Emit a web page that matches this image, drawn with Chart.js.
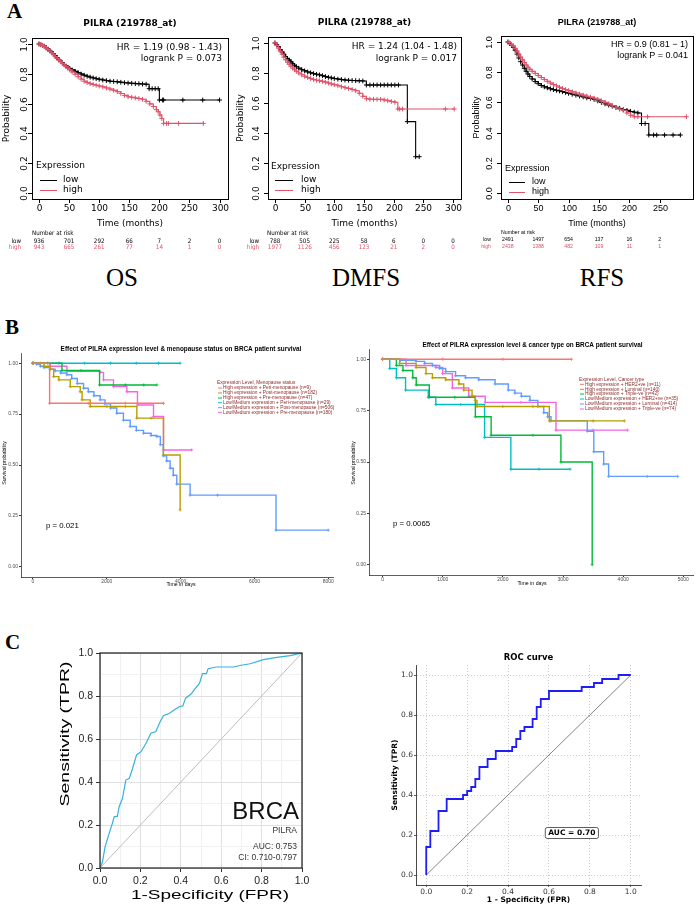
<!DOCTYPE html>
<html>
<head>
<meta charset="utf-8">
<title>PILRA survival and ROC</title>
<script src="https://cdn.jsdelivr.net/npm/chart.js@4.4.1/dist/chart.umd.min.js"></script>
<style>
  body { margin: 0; background: #fff; }
  #page { position: relative; width: 698px; height: 906px; overflow: hidden; background: #fff; }
  #page canvas { position: absolute; }
  .tag { position: absolute; font-family: 'Liberation Serif', serif; color: #000; line-height: 1; white-space: nowrap; }
  .panel { font-weight: bold; font-size: 21px; }
  .name { font-size: 25px; transform: translateX(-50%); }
</style>
</head>
<body>
<div id="page">
  <div class="tag panel" style="left:7px;top:1px">A</div>
  <div class="tag panel" style="left:5px;top:317px">B</div>
  <div class="tag panel" style="left:5px;top:632px">C</div>
  <div class="tag name" style="left:122px;top:265px">OS</div>
  <div class="tag name" style="left:366px;top:265px">DMFS</div>
  <div class="tag name" style="left:602px;top:265px">RFS</div>

  <canvas id="os" width="234" height="255" style="left:0;top:0"></canvas>
  <canvas id="dmfs" width="232" height="255" style="left:234px;top:0"></canvas>
  <canvas id="rfs" width="232" height="255" style="left:466px;top:0"></canvas>
  <canvas id="meno" width="350" height="258" style="left:0;top:335px"></canvas>
  <canvas id="ctype" width="348" height="258" style="left:350px;top:335px"></canvas>
  <canvas id="rocBrca" width="350" height="286" style="left:0;top:620px"></canvas>
  <canvas id="rocPilra" width="348" height="266" style="left:350px;top:640px"></canvas>
</div>

<script>
// ---------- A: KM plotter curves, [months, survival] ----------
const osLow = [[0,1],[3,0.995],[6,0.99],[9,0.985],[12,0.975],[15,0.965],[18,0.955],[21,0.945],[24,0.932],[27,0.92],[30,0.908],[33,0.896],[36,0.884],[39,0.872],[42,0.862],[45,0.852],[48,0.843],[51,0.835],[55,0.826],[60,0.816],[65,0.807],[70,0.798],[75,0.79],[80,0.783],[85,0.777],[90,0.772],[95,0.767],[100,0.763],[106,0.758],[112,0.754],[118,0.75],[124,0.748],[130,0.746],[136,0.743],[142,0.74],[148,0.738],[154,0.736],[160,0.734],[166,0.733],[172,0.731],[178,0.73],[183,0.70],[188,0.70],[193,0.70],[198,0.70],[200,0.624],[205,0.624],[207,0.624],[239,0.624],[272,0.624],[300,0.624]];
const osHigh = [[0,1],[3,0.995],[6,0.99],[9,0.982],[12,0.972],[15,0.962],[18,0.952],[21,0.94],[24,0.928],[27,0.916],[30,0.904],[33,0.892],[36,0.88],[39,0.869],[42,0.859],[45,0.849],[48,0.838],[51,0.826],[55,0.812],[60,0.796],[65,0.78],[70,0.764],[75,0.75],[80,0.741],[85,0.734],[90,0.728],[95,0.723],[100,0.718],[106,0.712],[112,0.705],[118,0.697],[124,0.689],[130,0.68],[136,0.668],[142,0.655],[148,0.646],[154,0.642],[160,0.638],[166,0.634],[172,0.629],[178,0.615],[184,0.598],[190,0.58],[195,0.56],[198,0.545],[201,0.523],[204,0.5],[207,0.467],[212,0.467],[215,0.467],[232,0.467],[273,0.467]];
const dmfsLow = [[0,1],[3,0.99],[6,0.975],[9,0.955],[12,0.94],[15,0.925],[18,0.91],[21,0.897],[24,0.886],[27,0.874],[30,0.862],[33,0.851],[36,0.842],[40,0.832],[45,0.822],[50,0.814],[55,0.807],[60,0.801],[65,0.796],[70,0.791],[75,0.787],[80,0.782],[85,0.776],[90,0.771],[95,0.767],[100,0.763],[106,0.759],[112,0.756],[118,0.753],[124,0.751],[130,0.75],[136,0.749],[142,0.748],[148,0.747],[154,0.72],[160,0.72],[166,0.72],[172,0.72],[178,0.72],[184,0.72],[190,0.72],[196,0.72],[202,0.72],[208,0.72],[223,0.476],[237,0.242],[243,0.242]];
const dmfsHigh = [[0,1],[3,0.985],[6,0.965],[9,0.945],[12,0.925],[15,0.905],[18,0.888],[21,0.872],[24,0.858],[27,0.845],[30,0.833],[33,0.822],[36,0.812],[40,0.8],[45,0.788],[50,0.778],[55,0.77],[60,0.763],[65,0.757],[70,0.752],[75,0.748],[80,0.744],[85,0.739],[90,0.733],[95,0.727],[100,0.722],[106,0.715],[112,0.708],[118,0.702],[124,0.697],[130,0.69],[136,0.682],[142,0.665],[148,0.645],[154,0.628],[160,0.625],[166,0.624],[172,0.624],[178,0.624],[184,0.62],[190,0.615],[196,0.61],[202,0.605],[207,0.56],[210,0.56],[215,0.56],[287,0.56],[302,0.56]];
const rfsLow = [[0,1],[3,0.99],[6,0.98],[9,0.965],[12,0.945],[15,0.92],[18,0.895],[21,0.87],[24,0.848],[27,0.826],[30,0.806],[33,0.788],[36,0.772],[40,0.755],[45,0.738],[50,0.724],[55,0.712],[60,0.703],[65,0.696],[70,0.69],[75,0.685],[80,0.68],[85,0.676],[90,0.671],[95,0.666],[100,0.66],[106,0.654],[112,0.648],[118,0.642],[124,0.636],[130,0.63],[136,0.627],[142,0.62],[148,0.61],[154,0.6],[160,0.59],[166,0.582],[172,0.575],[178,0.567],[184,0.56],[190,0.552],[196,0.547],[202,0.54],[208,0.535],[214,0.53],[220,0.46],[226,0.46],[232,0.384],[240,0.384],[245,0.384],[258,0.384],[272,0.384],[284,0.384]];
const rfsHigh = [[0,1],[3,0.995],[6,0.985],[9,0.975],[12,0.958],[15,0.94],[18,0.92],[21,0.9],[24,0.882],[27,0.864],[30,0.848],[33,0.833],[36,0.82],[40,0.806],[45,0.792],[50,0.778],[55,0.765],[60,0.752],[65,0.74],[70,0.728],[75,0.718],[80,0.709],[85,0.7],[90,0.692],[95,0.685],[100,0.678],[106,0.67],[112,0.662],[118,0.655],[124,0.648],[130,0.641],[136,0.635],[142,0.628],[148,0.62],[154,0.61],[160,0.6],[166,0.59],[172,0.578],[178,0.565],[184,0.555],[190,0.547],[196,0.53],[202,0.515],[208,0.505],[214,0.505],[230,0.505],[294,0.505]];

// number at risk
const riskTimes = [0, 50, 100, 150, 200, 250, 300];
const rfsRiskTimes = [0, 50, 100, 150, 200, 250];
const osRiskLow = [936, 701, 292, 66, 7, 2, 0];
const osRiskHigh = [943, 665, 261, 77, 14, 1, 0];
const dmfsRiskLow = [788, 505, 225, 58, 6, 0, 0];
const dmfsRiskHigh = [1977, 1126, 456, 123, 21, 2, 0];
const rfsRiskLow = [2491, 1497, 654, 137, 16, 2];
const rfsRiskHigh = [2438, 1388, 482, 109, 11, 1];

const osStats = ['HR = 1.19 (0.98 - 1.43)', 'logrank P = 0.073'];
const dmfsStats = ['HR = 1.24 (1.04 - 1.48)', 'logrank P = 0.017'];
const rfsStats = ['HR = 0.9 (0.81 \u2212 1)', 'logrank P = 0.041'];
const yTicksA = [0, 0.2, 0.4, 0.6, 0.8, 1.0];

// ---------- B: TCGA BRCA KM curves, [days, survival] ----------
const menoLabels = ['High expression + Peri-menopause (n=9)', 'High expression + Post-menopause (n=182)', 'High expression + Pre-menopause (n=47)', 'Low/Medium expression + Peri-menopause (n=29)', 'Low/Medium expression + Post-menopause (n=506)', 'Low/Medium expression + Pre-menopause (n=180)'];
const menoCurves = [
  [[0,1],[450,0.803],[1500,0.803],[2500,0.803],[3535,0.803]],
  [[0,1],[200,1],[300,0.985],[470,0.97],[560,0.934],[700,0.918],[1010,0.885],[1280,0.86],[1330,0.82],[1550,0.787],[2000,0.787],[2500,0.787],[2813,0.73],[3200,0.73],[3535,0.549],[3986,0.279]],
  [[0,1],[400,1],[785,0.964],[1300,0.964],[1803,0.893],[2500,0.893],[3000,0.893],[3355,0.893]],
  [[0,1],[700,1],[1400,1],[2100,1],[2800,1],[3400,1],[3986,1]],
  [[0,1],[100,0.995],[200,0.985],[300,0.978],[470,0.97],[600,0.962],[750,0.952],[920,0.943],[1050,0.925],[1200,0.9],[1370,0.877],[1500,0.86],[1650,0.84],[1820,0.82],[1950,0.8],[2100,0.78],[2270,0.754],[2450,0.72],[2633,0.689],[2800,0.67],[2994,0.656],[3200,0.645],[3355,0.64],[3450,0.6],[3530,0.545],[3620,0.52],[3715,0.484],[3800,0.45],[3895,0.406],[4256,0.352],[5000,0.352],[6583,0.18],[8000,0.18]],
  [[0,1],[470,0.985],[920,0.96],[1820,0.955],[1910,0.918],[2180,0.885],[2543,0.86],[2830,0.795],[3265,0.738],[3535,0.574],[4300,0.574]]
];
const ctypeLabels = ['High expression + HER2+ve (n=11)', 'High expression + Luminal (n=140)', 'High expression + Triple-ve (n=42)', 'Low/Medium expression + HER2+ve (n=35)', 'Low/Medium expression + Luminal (n=414)', 'Low/Medium expression + Triple-ve (n=74)'];
const ctypeCurves = [
  [[0,1],[1000,1],[2000,1],[3140,1]],
  [[0,1],[285,0.98],[558,0.96],[722,0.93],[830,0.91],[1050,0.9],[1270,0.88],[1350,0.85],[1488,0.82],[1543,0.8],[1570,0.77],[2000,0.77],[2500,0.77],[2773,0.7],[3500,0.7],[4020,0.7]],
  [[0,1],[230,0.97],[340,0.945],[503,0.91],[560,0.875],[777,0.815],[1200,0.815],[1543,0.72],[1805,0.63],[2500,0.63],[2965,0.5],[3485,0]],
  [[0,1],[120,0.955],[230,0.91],[383,0.85],[760,0.815],[886,0.78],[1300,0.78],[1696,0.62],[2133,0.465],[2600,0.465],[3118,0.465]],
  [[0,1],[300,0.995],[558,0.99],[700,0.98],[830,0.97],[950,0.955],[1050,0.94],[1214,0.92],[1380,0.91],[1600,0.9],[1871,0.88],[2090,0.85],[2200,0.835],[2308,0.82],[2450,0.8],[2582,0.77],[2680,0.74],[2746,0.72],[2800,0.7],[3403,0.65],[3512,0.55],[3676,0.49],[3758,0.43],[4400,0.43],[4907,0.43]],
  [[0,1],[390,0.97],[886,0.96],[1000,0.93],[1160,0.86],[1433,0.82],[1707,0.79],[2300,0.79],[2883,0.655],[3500,0.655],[4075,0.655]]
];
const survTicks = [0, 0.25, 0.5, 0.75, 1];
const menoDays = [0, 2000, 4000, 6000, 8000];
const ctypeDays = [0, 1000, 2000, 3000, 4000, 5000];

// ---------- C: ROC curves, [FPR, TPR] ----------
const rocBrca = [[0,0],[0.012,0.028],[0.025,0.098],[0.045,0.16],[0.061,0.207],[0.07,0.238],[0.086,0.241],[0.095,0.285],[0.111,0.323],[0.128,0.409],[0.145,0.417],[0.161,0.463],[0.181,0.526],[0.203,0.541],[0.228,0.58],[0.252,0.627],[0.277,0.635],[0.294,0.673],[0.314,0.708],[0.344,0.72],[0.369,0.736],[0.394,0.751],[0.41,0.754],[0.424,0.79],[0.452,0.81],[0.477,0.841],[0.493,0.86],[0.507,0.904],[0.527,0.904],[0.535,0.927],[0.576,0.935],[0.66,0.935],[0.693,0.942],[0.743,0.95],[0.809,0.969],[0.875,0.98],[0.942,0.988],[1,1]];
const rocPilra = [[0,0],[0,0.14],[0.02,0.22],[0.06,0.32],[0.10,0.38],[0.18,0.40],[0.20,0.42],[0.22,0.44],[0.24,0.48],[0.26,0.54],[0.30,0.58],[0.34,0.62],[0.42,0.64],[0.44,0.68],[0.46,0.72],[0.48,0.74],[0.52,0.78],[0.54,0.84],[0.56,0.88],[0.60,0.92],[0.76,0.94],[0.82,0.96],[0.86,0.98],[0.94,1.0],[1,1]];
const chance = [[0,0],[1,1]];
const rocGrid = [0, 0.1, 0.2, 0.3, 0.4, 0.5, 0.6, 0.7, 0.8, 0.9, 1];
const rocTicks = [0, 0.2, 0.4, 0.6, 0.8, 1];

const LOW_COL = '#000000';
const HIGH_COL = '#DF536B';
const GG_COLS = ['#F8766D', '#B79F00', '#00BA38', '#00BFC4', '#619CFF', '#F564E3'];

const xy = pts => pts.map(([x, y]) => ({ x, y }));
const noChrome = { legend: { display: false }, tooltip: { enabled: false } };

// R base-graphics frame for the KM plotter panels
const kmFrame = {
  id: 'kmFrame',
  afterDraw(chart, args, o) {
    const { ctx, chartArea: a, scales: { x, y } } = chart;
    const norm = `${o.size}px ${o.family}`;
    const txt = (s, px, py, align, color, font) => {
      ctx.font = font; ctx.fillStyle = color; ctx.textAlign = align; ctx.fillText(s, px, py);
    };
    ctx.save();
    ctx.textBaseline = 'middle';
    ctx.strokeStyle = '#000';
    ctx.lineWidth = 1;
    ctx.strokeRect(a.left + 0.5, a.top + 0.5, a.right - a.left, a.bottom - a.top);
    ctx.beginPath();
    o.xTicks.forEach(v => {
      const px = Math.round(x.getPixelForValue(v)) + 0.5;
      ctx.moveTo(px, a.bottom); ctx.lineTo(px, a.bottom + 4);
      txt(String(v), px, o.xTickY, 'center', '#000', norm);
    });
    yTicksA.forEach(v => {
      const py = Math.round(y.getPixelForValue(v)) + 0.5;
      ctx.moveTo(a.left, py); ctx.lineTo(a.left - 4, py);
      ctx.save();
      ctx.translate(o.yTickX, py); ctx.rotate(-Math.PI / 2);
      txt(v.toFixed(1), 0, 0, 'center', '#000', norm);
      ctx.restore();
    });
    ctx.stroke();

    const cx = (a.left + a.right) / 2;
    txt(o.title, cx, o.titleY, 'center', '#000', `bold ${o.size}px ${o.family}`);
    txt('Time (months)', cx, o.xTitleY, 'center', '#000', norm);
    ctx.save();
    ctx.translate(o.yTitleX, (a.top + a.bottom) / 2); ctx.rotate(-Math.PI / 2);
    txt('Probability', 0, 0, 'center', '#000', norm);
    ctx.restore();
    o.stats.forEach((s, i) => txt(s, a.right - o.statsInset, o.statsY[i], 'right', '#000', norm));

    // legend without a box, as in the KM plotter output
    txt('Expression', o.legX, o.legY[0], 'left', '#000', norm);
    [['low', LOW_COL], ['high', HIGH_COL]].forEach(([lab, col], i) => {
      const ly = Math.round(o.legY[i + 1]) + 0.5;
      ctx.strokeStyle = col;
      ctx.beginPath(); ctx.moveTo(o.legLine[0], ly); ctx.lineTo(o.legLine[1], ly); ctx.stroke();
      txt(lab, o.legText, o.legY[i + 1], 'left', '#000', norm);
    });

    // number at risk table, placed under the time axis
    const rf = `${o.riskSize}px ${o.riskFamily}`;
    txt('Number at risk', o.riskLeft, o.riskY[0], 'left', '#000', rf);
    [['low', o.risk.low, LOW_COL], ['high', o.risk.high, HIGH_COL]].forEach(([lab, vals, col], i) => {
      txt(lab, o.riskLabelX, o.riskY[i + 1], 'right', col, rf);
      vals.forEach((n, j) => txt(String(n), x.getPixelForValue(o.risk.times[j]), o.riskY[i + 1], 'center', col, rf));
    });
    ctx.restore();
  }
};

function buildKm(id, low, high, xRange, area, frame) {
  const cv = document.getElementById(id);
  const [L, T, R, B] = area;
  const set = (pts, color) => ({
    data: xy(pts), borderColor: color, backgroundColor: color, borderWidth: 1.1,
    stepped: 'before', pointStyle: 'cross', pointRadius: 2.4, pointBorderWidth: 1,
    pointBorderColor: color
  });
  return new Chart(cv, {
    type: 'line',
    // high first so it is painted over the low group
    data: { datasets: [set(high, HIGH_COL), set(low, LOW_COL)] },
    options: {
      responsive: false, animation: false, events: [],
      layout: { padding: { left: L, top: T, right: cv.width - R, bottom: cv.height - B } },
      scales: {
        x: { type: 'linear', display: false, min: xRange[0], max: xRange[1] },
        y: { type: 'linear', display: false, min: -0.04, max: 1.04 }
      },
      plugins: { ...noChrome, kmFrame: frame }
    },
    plugins: [kmFrame]
  });
}

const djv = "'DejaVu Sans'";
const lib = "'Liberation Sans'";

buildKm('os', osLow, osHigh, [-11.6, 314], [32, 38, 228, 199], {
  family: djv, size: 9, title: 'PILRA (219788_at)', titleY: 24,
  xTicks: riskTimes, xTickY: 209, xTitleY: 224, yTickX: 25, yTitleX: 7,
  stats: osStats, statsInset: 6, statsY: [48, 59],
  legX: 36, legY: [166, 180, 190], legLine: [40, 57], legText: 63,
  riskFamily: "'DejaVu Sans Condensed'", riskSize: 6.2, riskLeft: 32, riskLabelX: 21, riskY: [233, 241, 247.5],
  risk: { times: riskTimes, low: osRiskLow, high: osRiskHigh }
});
buildKm('dmfs', dmfsLow, dmfsHigh, [-11.7, 313.4], [34, 37, 228, 199], {
  family: djv, size: 9, title: 'PILRA (219788_at)', titleY: 23,
  xTicks: riskTimes, xTickY: 209, xTitleY: 224, yTickX: 23, yTitleX: 7,
  stats: dmfsStats, statsInset: 4, statsY: [47, 59],
  legX: 37, legY: [167, 180, 190], legLine: [41, 59], legText: 67,
  riskFamily: "'DejaVu Sans Condensed'", riskSize: 6.2, riskLeft: 33, riskLabelX: 25, riskY: [233, 241, 247.5],
  risk: { times: riskTimes, low: dmfsRiskLow, high: dmfsRiskHigh }
});
buildKm('rfs', rfsLow, rfsHigh, [-11.3, 304.8], [35, 36, 231, 199], {
  family: lib, size: 9, title: 'PILRA (219788_at)', titleY: 23,
  xTicks: rfsRiskTimes, xTickY: 209, xTitleY: 224, yTickX: 24, yTitleX: 11,
  stats: rfsStats, statsInset: 5, statsY: [45, 56],
  legX: 39, legY: [169, 182, 192], legLine: [43, 59], legText: 66,
  riskFamily: lib, riskSize: 5.2, riskLeft: 35, riskLabelX: 25, riskY: [232.7, 240, 246.7],
  risk: { times: rfsRiskTimes, low: rfsRiskLow, high: rfsRiskHigh }
});

// ggplot-like text layer for the TCGA survival panels
const ggFrame = {
  id: 'ggFrame',
  afterDraw(chart, args, o) {
    const { ctx } = chart;
    ctx.save();
    ctx.textBaseline = 'middle';
    ctx.fillStyle = '#000';
    ctx.textAlign = 'center';
    ctx.font = `bold 6.4px ${lib}`;
    ctx.fillText(o.title, o.titlePos[0], o.titlePos[1]);
    ctx.font = `5.2px ${lib}`;
    ctx.fillText('Time in days', o.xTitlePos[0], o.xTitlePos[1]);
    ctx.save();
    ctx.translate(o.yTitlePos[0], o.yTitlePos[1]); ctx.rotate(-Math.PI / 2);
    ctx.fillText('Survival probability', 0, 0);
    ctx.restore();
    ctx.textAlign = 'left';
    ctx.font = `7.8px ${lib}`;
    ctx.fillText(o.pText, o.pPos[0], o.pPos[1]);

    ctx.font = `4.8px ${lib}`;
    ctx.fillStyle = '#8E2A2A';
    ctx.fillText(o.legTitle, o.legX, o.legY[0]);
    chart.data.datasets.forEach((ds, i) => {
      const ly = o.legY[i + 1];
      ctx.strokeStyle = ds.borderColor; ctx.lineWidth = 1;
      ctx.beginPath(); ctx.moveTo(o.legX + 1, ly); ctx.lineTo(o.legX + 5, ly); ctx.stroke();
      ctx.fillStyle = '#8E2A2A';
      ctx.fillText(ds.label, o.legX + 6, ly);
    });
    ctx.restore();
  }
};

function buildGg(id, curves, labels, dayTicks, xRange, area, frame) {
  const cv = document.getElementById(id);
  const [L, T, R, B] = area;
  const tickFont = { family: 'Liberation Sans', size: 5 };
  return new Chart(cv, {
    type: 'line',
    data: {
      datasets: curves.map((c, i) => ({
        label: labels[i], data: xy(c), borderColor: GG_COLS[i], backgroundColor: GG_COLS[i],
        borderWidth: 1.4, stepped: 'before', pointStyle: 'cross', pointRadius: 1.6,
        pointBorderWidth: 0.8, pointBorderColor: GG_COLS[i]
      }))
    },
    options: {
      responsive: false, animation: false, events: [],
      layout: { padding: { left: 0, top: T, right: cv.width - R, bottom: 0 } },
      scales: {
        x: {
          type: 'linear', min: xRange[0], max: xRange[1],
          afterBuildTicks: s => { s.ticks = dayTicks.map(v => ({ value: v })); },
          afterFit: s => { s.height = cv.height - B; },
          grid: { drawOnChartArea: false, tickLength: 2, color: '#333' },
          border: { color: '#333', width: 0.8 },
          ticks: { font: tickFont, color: '#4d4d4d', padding: 0, maxRotation: 0, autoSkip: false, callback: v => String(v) }
        },
        y: {
          type: 'linear', min: -0.05, max: 1.05,
          afterBuildTicks: s => { s.ticks = survTicks.map(v => ({ value: v })); },
          afterFit: s => { s.width = L; },
          grid: { drawOnChartArea: false, tickLength: 2, color: '#333' },
          border: { color: '#333', width: 0.8 },
          ticks: { font: tickFont, color: '#4d4d4d', padding: 1, autoSkip: false, callback: v => v.toFixed(2) }
        }
      },
      plugins: { ...noChrome, ggFrame: frame }
    },
    plugins: [ggFrame]
  });
}

buildGg('meno', menoCurves, menoLabels, menoDays, [-325, 8127], [21, 18, 333, 242], {
  title: 'Effect of PILRA expression level & menopause status on BRCA patient survival',
  titlePos: [181, 14], xTitlePos: [181, 250], yTitlePos: [5, 128],
  pText: 'p = 0.021', pPos: [46, 191],
  legTitle: 'Expression Level, Menopause status', legX: 217, legY: [47.7, 53, 58, 63, 67.7, 72.7, 77.3]
});
buildGg('ctype', ctypeCurves, ctypeLabels, ctypeDays, [-225, 5164], [19, 14, 347, 240], {
  title: 'Effect of PILRA expression level & cancer type on BRCA patient survival',
  titlePos: [182.5, 10], xTitlePos: [182, 249], yTitlePos: [4, 128],
  pText: 'p = 0.0065', pPos: [43, 189],
  legTitle: 'Expression Level, Cancer type', legX: 229, legY: [44.3, 49.3, 54.3, 59, 64, 69, 74]
});

// ROC text layer: box, axis titles and notes anchored in data space
const rocFrame = {
  id: 'rocFrame',
  afterDraw(chart, args, o) {
    const { ctx, chartArea: a, scales: { x, y } } = chart;
    ctx.save();
    ctx.textBaseline = 'middle';
    if (o.box) {
      ctx.strokeStyle = '#1a1a1a'; ctx.lineWidth = 1.2;
      ctx.strokeRect(a.left, a.top, a.right - a.left, a.bottom - a.top);
    }
    const cx = (a.left + a.right) / 2, cy = (a.top + a.bottom) / 2;
    ctx.fillStyle = '#000'; ctx.textAlign = 'center';
    if (o.title) { ctx.font = o.titleFont; ctx.fillText(o.title, cx, o.titleY); }
    // axis titles, optionally stretched along the text direction to the source length
    const axisText = (s, px, py, len, vertical) => {
      ctx.save();
      ctx.translate(px, py);
      if (vertical) ctx.rotate(-Math.PI / 2);
      if (len) ctx.scale(len / ctx.measureText(s).width, 1);
      ctx.fillText(s, 0, 0);
      ctx.restore();
    };
    ctx.font = o.axisFont;
    axisText(o.xTitle, o.xTitleX ?? cx, o.xTitleY, o.xTitleLen, false);
    axisText(o.yTitle, o.yTitleX, o.yTitleY ?? cy, o.yTitleLen, true);
    o.notes.forEach(n => {
      const px = x.getPixelForValue(n.at[0]), py = y.getPixelForValue(n.at[1]);
      ctx.font = n.font; ctx.textAlign = n.align;
      if (n.boxed) {
        const w = ctx.measureText(n.text).width + 6, h = 11;
        ctx.beginPath();
        ctx.roundRect(px - w / 2, py - h / 2, w, h, 2);
        ctx.fillStyle = '#fff'; ctx.fill();
        ctx.strokeStyle = '#333'; ctx.lineWidth = 0.8; ctx.stroke();
      }
      ctx.fillStyle = n.color;
      ctx.fillText(n.text, px, py);
    });
    ctx.restore();
  }
};

const major = v => Math.round(v * 10) % 2 === 0;

// C left: ggplot style with major/minor grid
(function () {
  const cv = document.getElementById('rocBrca');
  const [L, T, R, B] = [100, 33, 302, 248];
  const gridAxis = (fit) => ({
    type: 'linear', min: 0, max: 1,
    afterBuildTicks: s => { s.ticks = rocGrid.map(v => ({ value: v })); },
    afterFit: fit,
    grid: {
      color: c => major(c.tick.value) ? '#E0E0E0' : '#F1F1F1', lineWidth: 1,
      tickColor: c => major(c.tick.value) ? '#333' : 'rgba(0,0,0,0)', tickLength: 4
    },
    border: { display: false },
    ticks: { font: { family: 'Liberation Sans', size: 10.5 }, color: '#222', padding: 3, maxRotation: 0, autoSkip: false, callback: v => major(v) ? v.toFixed(1) : '' }
  });
  new Chart(cv, {
    type: 'line',
    data: {
      datasets: [
        { data: xy(rocBrca), borderColor: '#36B2D9', borderWidth: 1.2, pointRadius: 0 },
        { data: xy(chance), borderColor: '#BDBDBD', borderWidth: 1, pointRadius: 0 }
      ]
    },
    options: {
      responsive: false, animation: false, events: [],
      layout: { padding: { left: 0, top: T, right: cv.width - R, bottom: 0 } },
      scales: {
        x: gridAxis(s => { s.height = cv.height - B; }),
        y: gridAxis(s => { s.width = L; })
      },
      plugins: {
        ...noChrome,
        rocFrame: {
          box: true, axisFont: `13.5px ${lib}`, xTitle: '1-Specificity (FPR)', yTitle: 'Sensitivity (TPR)',
          xTitleX: 210, xTitleY: 275, yTitleX: 65, yTitleY: 114, xTitleLen: 158, yTitleLen: 145,
          notes: [
            { text: 'BRCA', at: [0.985, 0.26], font: `24px ${lib}`, align: 'right', color: '#111' },
            { text: 'PILRA', at: [0.975, 0.172], font: `8.5px ${lib}`, align: 'right', color: '#333' },
            { text: 'AUC: 0.753', at: [0.975, 0.098], font: `8.5px ${lib}`, align: 'right', color: '#333' },
            { text: 'CI: 0.710-0.797', at: [0.975, 0.047], font: `8.5px ${lib}`, align: 'right', color: '#333' }
          ]
        }
      }
    },
    plugins: [rocFrame]
  });
})();

// C right: matplotlib style, dotted grid, left/bottom spines
(function () {
  const cv = document.getElementById('rocPilra');
  const [L, T, R, B] = [66, 25, 291, 245];
  const mplAxis = (fit) => ({
    type: 'linear', min: -0.05, max: 1.05,
    afterBuildTicks: s => { s.ticks = rocTicks.map(v => ({ value: v })); },
    afterFit: fit,
    grid: { color: 'rgba(170,170,170,0.8)', lineWidth: 0.8, tickLength: 2, tickColor: '#333' },
    border: { display: true, color: '#333', width: 0.9, dash: [1, 2] },
    ticks: { font: { family: 'DejaVu Sans', size: 7.5 }, color: '#333', padding: 1, maxRotation: 0, autoSkip: false, callback: v => v.toFixed(1) }
  });
  new Chart(cv, {
    type: 'line',
    data: {
      datasets: [
        { data: xy(rocPilra), borderColor: '#1F1FF5', borderWidth: 1.8, stepped: 'before', pointRadius: 0 },
        { data: xy(chance), borderColor: '#666', borderWidth: 0.8, pointRadius: 0 }
      ]
    },
    options: {
      responsive: false, animation: false, events: [],
      layout: { padding: { left: 0, top: T, right: cv.width - R, bottom: 0 } },
      scales: {
        x: mplAxis(s => { s.height = cv.height - B; }),
        y: mplAxis(s => { s.width = L; })
      },
      plugins: {
        ...noChrome,
        rocFrame: {
          box: false, title: 'ROC curve', titleFont: `bold 8.5px ${djv}`, titleY: 18,
          axisFont: `bold 7.5px ${djv}`, xTitle: '1 - Specificity (FPR)', yTitle: 'Sensitivity (TPR)',
          xTitleY: 260, yTitleX: 45,
          notes: [
            { text: 'AUC = 0.70', at: [0.712, 0.21], font: `bold 7.5px ${djv}`, align: 'center', color: '#000', boxed: true }
          ]
        }
      }
    },
    plugins: [rocFrame]
  });
})();
</script>
</body>
</html>
